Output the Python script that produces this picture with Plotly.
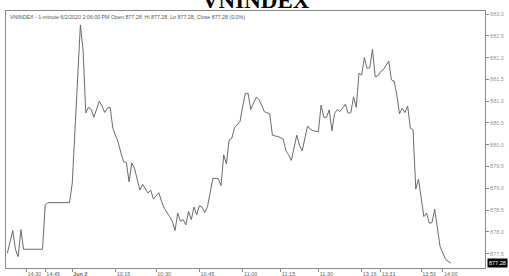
import plotly.graph_objects as go

# bar index (1-minute bars) and closing prices
bar_idx = [0, 2, 3, 4, 5, 6, 13, 14, 15, 23, 24, 25, 26, 27, 28, 29, 30, 31, 32, 34,
           35, 36, 37, 38, 39, 40, 41, 42, 43, 44, 45, 46, 47, 49, 50, 52, 53, 54, 56, 57,
           58, 60, 61, 62, 63, 64, 65, 66, 67, 68, 69, 70, 71, 72, 73, 74, 75, 76, 78, 79,
           80, 81, 82, 83, 84, 86, 87, 88, 89, 90, 92, 93, 94, 95, 97, 98, 99, 100, 102, 103,
           104, 105, 107, 108, 109, 111, 112, 113, 115, 116, 117, 118, 119, 120, 121, 122, 123, 125, 126, 127,
           128, 129, 130, 131, 132, 133, 134, 135, 136, 137, 138, 139, 141, 142, 143, 144, 145, 146, 147, 148,
           149, 150, 151, 152, 154, 155, 156, 157, 158, 160, 162, 164]
close = [877.51, 878.03, 877.59, 877.43, 878.05, 877.60, 877.60, 878.62, 878.67, 878.67, 879.12, 880.42, 881.72, 882.75, 882.17, 880.73, 880.86, 880.81, 880.63, 881.00,
         880.89, 880.74, 880.84, 880.86, 880.38, 880.22, 880.05, 879.81, 879.61, 879.59, 879.15, 879.58, 879.46, 878.96, 879.09, 878.89, 878.96, 878.75, 878.90, 878.70,
         878.54, 878.35, 878.24, 878.03, 878.43, 878.24, 878.28, 878.16, 878.47, 878.28, 878.57, 878.39, 878.60, 878.57, 878.44, 878.58, 878.89, 879.23, 879.22, 879.06,
         879.77, 879.56, 880.11, 880.15, 880.39, 880.53, 880.87, 881.18, 881.18, 880.81, 881.09, 881.04, 880.91, 880.76, 880.71, 880.22, 880.20, 880.19, 880.13, 879.86,
         879.77, 879.64, 880.22, 879.99, 879.86, 880.43, 880.36, 880.32, 880.30, 880.91, 880.63, 880.63, 880.80, 880.32, 880.72, 880.81, 880.76, 880.93, 880.72, 880.74,
         881.10, 880.86, 881.64, 881.60, 882.00, 881.75, 881.77, 882.19, 881.56, 881.58, 881.68, 881.72, 881.92, 881.49, 881.46, 881.14, 880.71, 880.84, 880.74, 880.89,
         880.38, 880.34, 878.98, 879.21, 878.35, 878.43, 878.20, 878.21, 878.52, 877.66, 877.37, 877.28]

tick_idx = [7, 14, 24, 40, 55, 71, 87, 101, 115, 131, 138, 153, 161]
tick_text = ["14:30", "14:45", "<b>Jun 2</b>", "10:15", "10:30", "10:45", "11:00", "11:15",
             "11:30", "13:16", "13:31", "13:50", "14:00"]
y_ticks = [877.5, 878.0, 878.5, 879.0, 879.5, 880.0, 880.5, 881.0, 881.5, 882.0, 882.5, 883.0]
last_close = 877.28
title_text = "<b>VNINDEX</b>"
info_text = ("VNINDEX - 1-minute 6/2/2020 2:06:00 PM Open 877.28, Hi 877.28, "
             "Lo 877.28, Close 877.28 (0.0%)")

fig = go.Figure()
fig.add_trace(go.Scatter(x=bar_idx, y=close, mode="lines",
                         line=dict(color="#6a6a6a", width=1), hoverinfo="skip"))

fig.update_layout(
    width=509, height=276,
    margin=dict(l=6, r=24, t=11, b=8),
    paper_bgcolor="white", plot_bgcolor="white",
    showlegend=False,
    font=dict(family="Liberation Sans", size=5, color="#666"),
)
fig.update_xaxes(
    range=[-0.5, 176.6], tickmode="array", tickvals=tick_idx, ticktext=tick_text,
    showgrid=False, zeroline=False, showline=True, linecolor="#888", linewidth=1,
    mirror=True, ticks="outside", ticklen=3, tickcolor="#888",
    tickfont=dict(size=5.5, color="#666", family="Liberation Sans"),
    ticklabelshift=8, ticklabelstandoff=-3, automargin=False,
)
fig.update_yaxes(
    range=[877.17, 883.07], side="right", tickmode="array", tickvals=y_ticks,
    tickformat=".1f", showgrid=False, zeroline=False, showline=True,
    linecolor="#888", linewidth=1, mirror=True, ticks="outside", ticklen=3,
    tickcolor="#888", tickfont=dict(size=5.5, color="#999", family="Liberation Sans"),
    automargin=False,
)
fig.add_annotation(text=title_text, xref="paper", yref="paper", x=0.522, y=1.0,
                   yshift=-3, xanchor="center", yanchor="bottom", showarrow=False,
                   font=dict(family="Liberation Serif", size=23, color="black"),
                   borderpad=0)
fig.add_annotation(text=info_text, xref="paper", yref="paper", x=0.0, y=1.0,
                   xshift=2, yshift=-1, xanchor="left", yanchor="top", showarrow=False,
                   font=dict(size=5.3, color="#555", family="Liberation Sans"))
fig.add_annotation(text=f"{last_close:.2f}", xref="paper", yref="y", x=1.0, y=last_close,
                   xshift=2, xanchor="left", yanchor="middle", showarrow=False,
                   bgcolor="black", font=dict(size=5.5, color="white", family="Liberation Sans"),
                   borderpad=1)

fig.write_html("out.html", config={"displayModeBar": False},
               post_script="document.body.style.margin='0';document.body.style.overflow='hidden';")
